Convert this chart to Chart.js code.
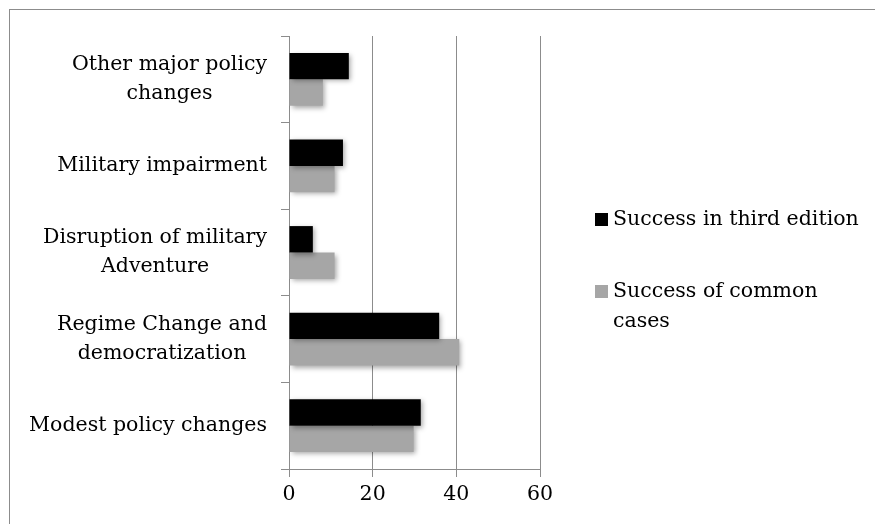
<!DOCTYPE html>
<html>
<head>
<meta charset="utf-8">
<script src="https://cdn.jsdelivr.net/npm/chart.js@4.4.1/dist/chart.umd.min.js"></script>
<style>
html,body{margin:0;padding:0;background:#fff;}
#wrap{position:relative;width:875px;height:524px;overflow:hidden;}
#frame{position:absolute;left:9px;top:9px;width:900px;height:560px;border:1px solid #8c8c8c;box-sizing:border-box;}
canvas{position:absolute;left:0;top:0;}
</style>
</head>
<body>
<div id="wrap"><div id="frame"></div><canvas id="c" width="875" height="524"></canvas></div>
<script>
const categories = [
  ["Other major policy", "changes"],
  ["Military impairment"],
  ["Disruption of military", "Adventure"],
  ["Regime Change and", "democratization"],
  ["Modest policy changes"]
];
const seriesNames = ["Success in third edition", "Success of common cases"];
const legendLines = [["Success in third edition"], ["Success of common", "cases"]];
const thirdEdition = [14.3, 12.9, 5.7, 35.9, 31.5];
const commonCases = [8.1, 10.9, 10.9, 40.7, 29.8];
const xTicks = [0, 20, 40, 60];

const FONT = "'DejaVu Serif', serif";
const FSIZE = 20.5;
const colors = ["#000000", "#a6a6a6"];

const shadowPlugin = {
  id: 'shadow',
  beforeDatasetsDraw(chart) {
    const ctx = chart.ctx;
    ctx.save();
    ctx.shadowColor = 'rgba(0,0,0,0.35)';
    ctx.shadowBlur = 5;
    ctx.shadowOffsetX = 2;
    ctx.shadowOffsetY = 2;
  },
  afterDatasetsDraw(chart) {
    chart.ctx.restore();
  }
};

const labelPlugin = {
  id: 'yLabels',
  afterDraw(chart) {
    const ctx = chart.ctx;
    const ys = chart.scales.y;
    ctx.save();
    ctx.font = FSIZE + "px " + FONT;
    ctx.textBaseline = 'middle';
    ctx.textAlign = 'center';
    ctx.fillStyle = '#000';
    const right = 267, lh = 29;
    categories.forEach((lines, i) => {
      const yc = ys.getPixelForTick(i);
      const w = Math.max(...lines.map(l => ctx.measureText(l).width));
      const cx = right - w / 2;
      const y0 = yc - (lines.length - 1) * lh / 2;
      lines.forEach((l, j) => ctx.fillText(l, cx, y0 + j * lh));
    });
    // legend
    ctx.textAlign = 'left';
    const ly = [220, 292];
    legendLines.forEach((lines, i) => {
      ctx.fillStyle = colors[i];
      ctx.fillRect(595, ly[i] - 7, 13, 13);
      ctx.fillStyle = '#000';
      lines.forEach((l, j) => ctx.fillText(l, 613, ly[i] + j * 30));
    });
    ctx.restore();
  }
};

new Chart(document.getElementById('c'), {
  type: 'bar',
  data: {
    labels: categories,
    datasets: [
      {label: seriesNames[0], data: thirdEdition, backgroundColor: colors[0], categoryPercentage: 0.61, barPercentage: 1.0},
      {label: seriesNames[1], data: commonCases, backgroundColor: colors[1], categoryPercentage: 0.61, barPercentage: 1.0}
    ]
  },
  options: {
    indexAxis: 'y',
    responsive: false,
    animation: false,
    devicePixelRatio: 1,
    layout: {padding: {left: 0, right: 335, top: 36, bottom: 0}},
    plugins: {legend: {display: false}, tooltip: {enabled: false}},
    scales: {
      x: {
        min: 0, max: 60,
        afterBuildTicks(s) { s.ticks = xTicks.map(v => ({value: v})); },
        afterFit(s) { s.height = 55; },
        ticks: {font: {family: FONT, size: FSIZE}, color: '#000', padding: 5},
        grid: {color: '#8c8c8c', lineWidth: 1, tickLength: 8, drawTicks: true},
        border: {display: true, color: '#8c8c8c', width: 1}
      },
      y: {
        afterFit(s) { s.width = 289; },
        ticks: {font: {family: FONT, size: FSIZE}, color: 'rgba(0,0,0,0)', padding: 14},
        grid: {offset: true, drawOnChartArea: false, tickLength: 8, color: '#8c8c8c'},
        border: {display: true, color: '#8c8c8c', width: 1}
      }
    }
  },
  plugins: [shadowPlugin, labelPlugin]
});
</script>
</body>
</html>
